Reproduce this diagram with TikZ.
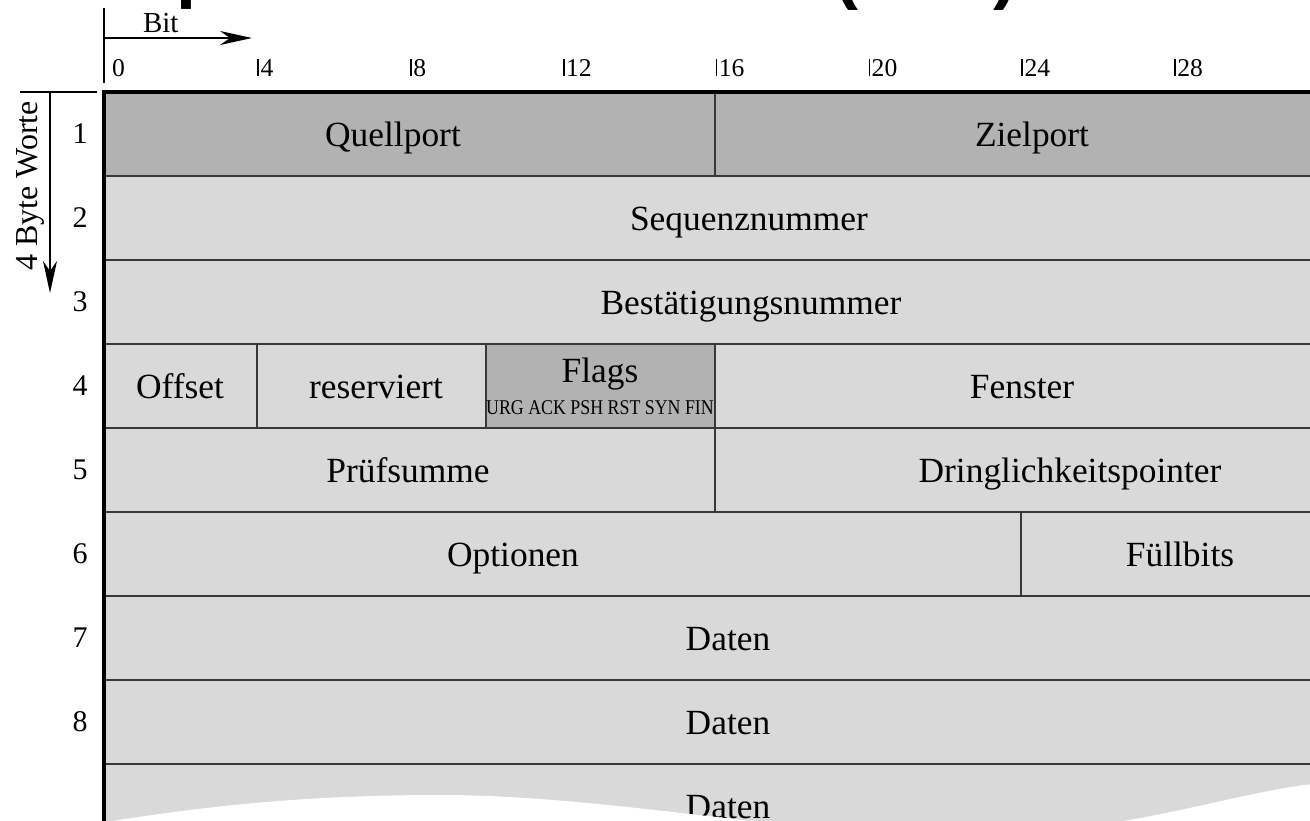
\documentclass[tikz,border=0pt]{standalone}
\usepackage{fontspec}
\setmainfont{Liberation Serif}
\newfontfamily\headfont{Liberation Sans}
\usetikzlibrary{arrows.meta}

\definecolor{hdrgrey}{gray}{0.70}
\definecolor{cellgrey}{gray}{0.85}
\definecolor{rulegrey}{gray}{0.22}

% tick mark in front of a bit number
\newcommand{\bitmark}[1]{\rule{0.8pt}{0.66em}\kern0.8pt#1}

\begin{document}
\begin{tikzpicture}[x=0.5pt,y=-0.5pt,
  every node/.style={inner sep=0pt, outer sep=0pt},
  field/.style={font=\fontsize{17.7}{20}\selectfont, anchor=base},
  rownum/.style={font=\fontsize{15}{18}\selectfont},
  bitnum/.style={font=\fontsize{12.8}{14}\selectfont, anchor=base west},
  heading/.style={font=\headfont\bfseries\fontsize{36}{40}\selectfont, anchor=south},
  grid/.style={draw=rulegrey, line width=0.8pt},
  frame/.style={line width=2.2pt, line join=miter},
  axis/.style={line width=0.6pt},
  axisarrow/.style={axis, -{Stealth[length=16pt, width=7pt, inset=5pt]}},
]
\useasboundingbox (0,0) rectangle (1310,820);

% heading above the table: only the lowest strip of it is in view
\begin{scope}
  \clip (0,-60) rectangle (1310,10);
  \node[heading] (hp) at (198,9) {p};
  \node[heading] (hl) at (846,10) {(};
  \node[heading] (hr) at (1005,10) {)};
\end{scope}

% cell backgrounds
\fill[cellgrey] (104,92) rectangle (1310,840);
\fill[hdrgrey] (104,92) rectangle (1310,176);
\fill[hdrgrey] (486,344) rectangle (715,428);

% row separators
\foreach \yy in {176,260,...,764}
  \draw[grid] (104,\yy) -- (1310,\yy);

% field separators
\draw[grid] (715,92) -- (715,176);
\draw[grid] (257,344) -- (257,428);
\draw[grid] (486,344) -- (486,428);
\draw[grid] (715,344) -- (715,512);
\draw[grid] (1021,512) -- (1021,596);

% field names
\node[field] (quellport) at (393,146) {Quellport};
\node[field] (zielport) at (1032,146) {Zielport};
\node[field] (seq) at (749,230) {Sequenznummer};
\node[field] (ack) at (751,314) {Bestätigungsnummer};
\node[field] (offset) at (180,398) {Offset};
\node[field] (res) at (376,398) {reserviert};
\node[field] (flags) at (600,382) {Flags};
\node[anchor=base, font=\fontsize{10.5}{12}\selectfont] (flagbits) at (600,414)
  {\scalebox{0.85}[1]{URG ACK PSH RST SYN FIN}};
\node[field] (fenster) at (1022,398) {Fenster};
\node[field] (pruef) at (408,482) {Prüfsumme};
\node[field] (dring) at (1070,482) {Dringlichkeitspointer};
\node[field] (opt) at (513,566) {Optionen};
\node[field] (fuell) at (1180,566) {Füllbits};
\node[field] (daten7) at (728,650) {Daten};
\node[field] (daten8) at (728,734) {Daten};
\node[field] (daten9) at (728,818) {Daten};

% torn lower edge of the table
\fill[white] (106,822) .. controls (230,802) and (330,795) .. (440,795)
  .. controls (600,795) and (760,830) .. (950,836)
  .. controls (1120,836) and (1220,795) .. (1312,784)
  -- (1312,845) -- (106,845) -- cycle;

% heavy frame
\draw[frame] (104,830) -- (104,92) -- (1312,92);

% bit axis
\coordinate (bittop) at (104,8);
\coordinate (bitbot) at (104,83);
\draw[axis] (bittop) -- (bitbot);
\coordinate (bitstart) at (104,38);
\coordinate (bitend) at (252,38);
\draw[axisarrow] (bitstart) -- (bitend);
\node[font=\fontsize{14.5}{16}\selectfont, anchor=base west] (bitlbl) at (143,32) {Bit};

\node[bitnum] (b0) at (112,76) {0};
\foreach \k in {4,8,...,28}
  \node[bitnum] (b\k) at ({104+38.2*\k+0.5},76) {\bitmark{\k}};

% word axis
\coordinate (wl) at (20,92);
\coordinate (wr) at (97,92);
\draw[axis] (wl) -- (wr);
\coordinate (wtop) at (50,92);
\coordinate (wend) at (50,293);
\draw[axisarrow] (wtop) -- (wend);
\node[rotate=90, anchor=base, font=\fontsize{16}{18}\selectfont] (wlbl) at (37,186) {4 Byte Worte};

\foreach \i in {1,...,8}
  \node[rownum] (r\i) at (80,{50+84*\i}) {\i};

\end{tikzpicture}
\end{document}
